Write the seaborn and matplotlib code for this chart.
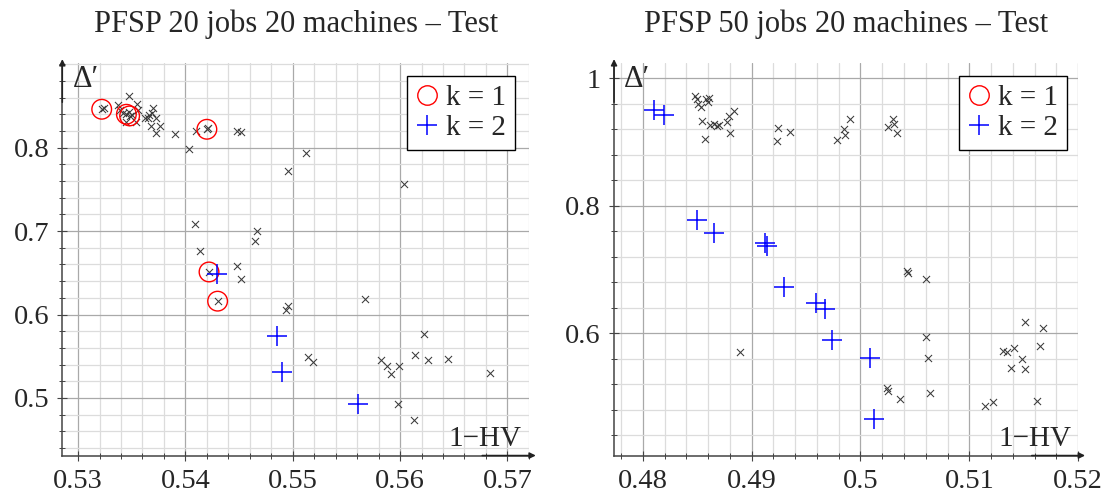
import matplotlib.pyplot as plt
import matplotlib.ticker as mticker
from matplotlib.lines import Line2D
import seaborn as sns

# PFSP 20 jobs - all points (x = 1-HV, y = delta')
left_x = [0.5322, 0.5324, 0.5345, 0.5348, 0.5347, 0.5337, 0.5339, 0.5342, 0.5347, 0.5350,
          0.5345, 0.5355, 0.5356, 0.5354, 0.5362, 0.5365, 0.5366, 0.5370, 0.5369, 0.5373,
          0.5368, 0.5373, 0.5376, 0.5390, 0.5403, 0.5410, 0.5420, 0.5421, 0.5448, 0.5452,
          0.5496, 0.5512, 0.5409, 0.5467, 0.5465, 0.5414, 0.5422, 0.5448, 0.5452, 0.5430,
          0.5496, 0.5494, 0.5604, 0.5567, 0.5622, 0.5514, 0.5519, 0.5582, 0.5588, 0.5592,
          0.5599, 0.5614, 0.5626, 0.5645, 0.5684, 0.5598, 0.5613]
left_y = [0.846, 0.847, 0.840, 0.838, 0.862, 0.851, 0.845, 0.841, 0.843, 0.839,
          0.831, 0.852, 0.845, 0.831, 0.836, 0.836, 0.839, 0.847, 0.841, 0.836,
          0.826, 0.817, 0.826, 0.816, 0.798, 0.820, 0.822, 0.823, 0.820, 0.819,
          0.772, 0.793, 0.708, 0.700, 0.688, 0.676, 0.651, 0.658, 0.642, 0.616,
          0.610, 0.605, 0.757, 0.618, 0.577, 0.549, 0.543, 0.546, 0.538, 0.529,
          0.538, 0.551, 0.545, 0.547, 0.530, 0.493, 0.474]
left_k1_x = [0.5322, 0.5345, 0.5348, 0.5420, 0.5422, 0.5430]
left_k1_y = [0.846, 0.840, 0.838, 0.822, 0.651, 0.616]
left_k2_x = [0.5429, 0.5485, 0.5490, 0.5561]
left_k2_y = [0.648, 0.574, 0.531, 0.493]

# PFSP 50 jobs
right_x = [0.4848, 0.4850, 0.4851, 0.4853, 0.4858, 0.4861, 0.4860, 0.4854, 0.4857, 0.4862,
           0.4865, 0.4868, 0.4870, 0.4877, 0.4880, 0.4879, 0.4884, 0.4924, 0.4923, 0.4935,
           0.4978, 0.4985, 0.4986, 0.4990, 0.5025, 0.5030, 0.5031, 0.5034,
           0.4889, 0.5043, 0.5044, 0.5060, 0.5060, 0.5062, 0.5024, 0.5025, 0.5036, 0.5064,
           0.5114, 0.5122, 0.5151, 0.5168, 0.5131, 0.5135, 0.5141, 0.5165, 0.5148, 0.5138,
           0.5151, 0.5162]
right_y = [0.972, 0.967, 0.960, 0.955, 0.967, 0.969, 0.963, 0.933, 0.905, 0.927,
           0.928, 0.925, 0.927, 0.932, 0.915, 0.941, 0.948, 0.922, 0.902, 0.916,
           0.904, 0.920, 0.911, 0.936, 0.924, 0.936, 0.929, 0.915,
           0.571, 0.698, 0.695, 0.685, 0.594, 0.561, 0.514, 0.509, 0.497, 0.507,
           0.486, 0.492, 0.617, 0.609, 0.573, 0.571, 0.577, 0.580, 0.560, 0.545,
           0.544, 0.494]
right_k1_x = []
right_k1_y = []
right_k2_x = [0.4810, 0.4819, 0.4850, 0.4865, 0.4912, 0.4914, 0.4930, 0.4959, 0.4967,
              0.4974, 0.5009, 0.5012]
right_k2_y = [0.951, 0.942, 0.777, 0.758, 0.741, 0.737, 0.672, 0.647, 0.638,
              0.590, 0.561, 0.465]

titles = ["PFSP 20 jobs 20 machines – Test", "PFSP 50 jobs 20 machines – Test"]
left_xticks = [0.53, 0.54, 0.55, 0.56, 0.57]
left_xlabels = ["0.53", "0.54", "0.55", "0.56", "0.57"]
left_yticks = [0.5, 0.6, 0.7, 0.8]
left_ylabels = ["0.5", "0.6", "0.7", "0.8"]
right_xticks = [0.48, 0.49, 0.5, 0.51, 0.52]
right_xlabels = ["0.48", "0.49", "0.5", "0.51", "0.52"]
right_yticks = [0.6, 0.8, 1.0]
right_ylabels = ["0.6", "0.8", "1"]

sns.set_style("white")
SERIF = ['Liberation Serif', 'DejaVu Serif']
plt.rcParams['font.family'] = SERIF
plt.rcParams['mathtext.fontset'] = 'stix'

fig = plt.figure(figsize=(11.07, 4.94), dpi=100)
ax1 = fig.add_axes([0.0563, 0.0779, 0.4214, 0.7945])
ax2 = fig.add_axes([0.5547, 0.0779, 0.4192, 0.7945])


def draw_panel(ax, xs, ys, k1x, k1y, k2x, k2y, title, xlim, ylim,
               xt, xl, yt, yl, ymin_step, leg_x):
    ax.set_axisbelow(True)
    sns.scatterplot(x=xs, y=ys, ax=ax, marker='x', color='#3a3a3a', s=26,
                    linewidth=0.75, zorder=3)
    if len(k1x) > 0:
        sns.scatterplot(x=k1x, y=k1y, ax=ax, marker='o', color='red', facecolors='none',
                        edgecolors='red', s=200, linewidth=1.0, zorder=4)
    sns.scatterplot(x=k2x, y=k2y, ax=ax, marker='+', color='blue', s=190,
                    linewidth=1.1, zorder=4)
    ax.set_xlim(*xlim)
    ax.set_ylim(*ylim)
    ax.set_xticks(xt, labels=xl)
    ax.set_yticks(yt, labels=yl)
    ax.xaxis.set_minor_locator(mticker.MultipleLocator(0.002))
    ax.yaxis.set_minor_locator(mticker.MultipleLocator(ymin_step))
    ax.grid(which='major', color='#a9a9a9', lw=0.9)
    ax.grid(which='minor', color='#dcdcdc', lw=0.9)
    ax.tick_params(which='major', direction='inout', length=7, width=0.8,
                   color='#444444', labelsize=20.5, pad=6)
    ax.tick_params(which='minor', direction='inout', length=4, width=0.7,
                   color='#444444')
    ax.tick_params(axis='x', which='both', bottom=True)
    ax.tick_params(axis='y', which='both', left=True)
    for lab in ax.get_xticklabels() + ax.get_yticklabels():
        lab.set_fontfamily(SERIF)
    for s in ['top', 'right']:
        ax.spines[s].set_visible(False)
    for s in ['left', 'bottom']:
        ax.spines[s].set_color('#444444')
        ax.spines[s].set_linewidth(1.1)
    ax.annotate('', xy=(1.015, 0), xytext=(0.9, 0), xycoords='axes fraction',
                arrowprops=dict(arrowstyle='-|>', color='#222222', lw=1.1,
                                mutation_scale=9, shrinkA=0, shrinkB=0))
    ax.annotate('', xy=(0, 1.01), xytext=(0, 0.9), xycoords='axes fraction',
                arrowprops=dict(arrowstyle='-|>', color='#222222', lw=1.1,
                                mutation_scale=9, shrinkA=0, shrinkB=0))
    ax.set_xlabel('')
    ax.set_ylabel('')
    ax.set_title(title, fontsize=22, pad=22, family=SERIF)
    ax.text(0.022, 0.995, "Δ′", transform=ax.transAxes, ha='left', va='top',
            fontsize=22, family=SERIF)
    ax.text(0.985, 0.008, "1−HV", transform=ax.transAxes, ha='right', va='bottom',
            fontsize=21, family=SERIF)
    handles = [
        Line2D([], [], marker='o', ls='', markerfacecolor='none', markeredgecolor='red',
               markersize=14, markeredgewidth=1.0),
        Line2D([], [], marker='+', ls='', color='blue', markersize=14,
               markeredgewidth=1.1),
    ]
    leg = ax.legend(handles, ['k = 1', 'k = 2'], loc='upper right',
                    bbox_to_anchor=(leg_x, 0.967), fontsize=21, frameon=True,
                    fancybox=False, edgecolor='black', framealpha=1,
                    handlelength=0.8, handletextpad=0.25, labelspacing=0.12,
                    borderpad=0.3, borderaxespad=0, prop={'family': SERIF, 'size': 21})
    leg.get_frame().set_linewidth(1.0)


draw_panel(ax1, left_x, left_y, left_k1_x, left_k1_y, left_k2_x, left_k2_y, titles[0],
           (0.52853, 0.5720), (0.431, 0.9014), left_xticks, left_xlabels,
           left_yticks, left_ylabels, 0.02, 0.970)
draw_panel(ax2, right_x, right_y, right_k1_x, right_k1_y, right_k2_x, right_k2_y, titles[1],
           (0.47735, 0.5200), (0.4083, 1.024), right_xticks, right_xlabels,
           right_yticks, right_ylabels, 0.04, 0.976)

fig.savefig('out.png', dpi=100)
